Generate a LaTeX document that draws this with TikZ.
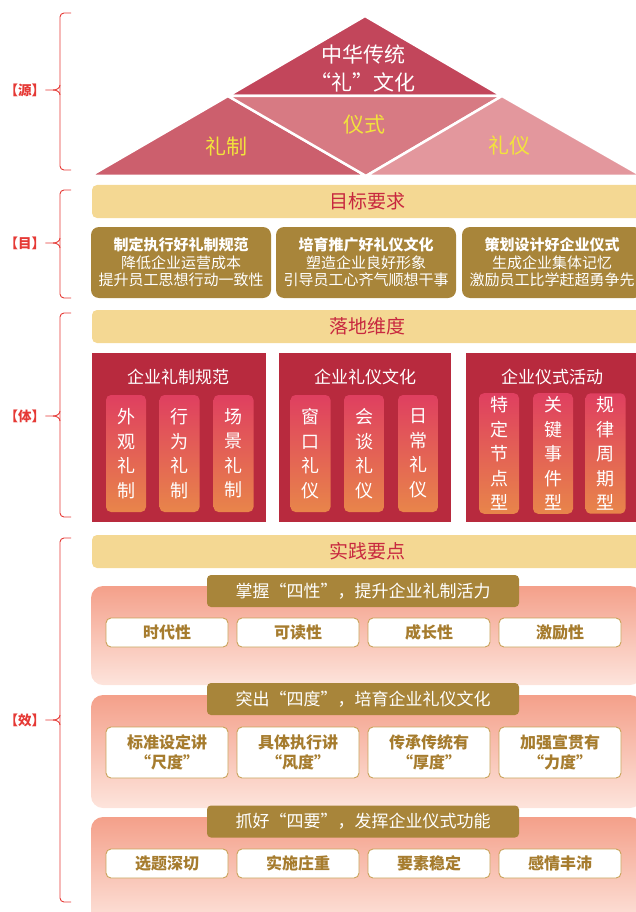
\documentclass[tikz,border=0pt]{standalone}
\usepackage{fontspec}
\setmainfont{Noto Sans CJK SC}

\definecolor{triTop}{HTML}{C2465B}
\definecolor{triLeft}{HTML}{CC5F6D}
\definecolor{triMid}{HTML}{D77A83}
\definecolor{triRight}{HTML}{E3979D}
\definecolor{triText}{HTML}{F2E33C}
\definecolor{barYellow}{HTML}{F4D893}
\definecolor{barRed}{HTML}{C8283F}
\definecolor{goldBrown}{HTML}{A8853A}
\definecolor{panelRed}{HTML}{B82A3E}
\definecolor{pillTop}{HTML}{DF3F60}
\definecolor{pillBot}{HTML}{E8854A}
\definecolor{pinkTop}{HTML}{F4A08A}
\definecolor{pinkBot}{HTML}{FDE4DC}
\definecolor{boxLine}{HTML}{C9A35A}
\definecolor{boxText}{HTML}{A67C2E}
\definecolor{braceRed}{HTML}{E53935}

\newcommand{\fsz}[2]{\fontsize{#1}{#2}\selectfont}

\tikzset{
  sidelabel/.style={text=braceRed, font=\fsz{13.5}{16}\bfseries, inner sep=0pt},
  sidebrace/.style={draw=braceRed, line width=0.9pt},
  tritext/.style={text=triText, font=\fsz{21}{26}},
  ybar/.style={fill=barYellow, rounded corners=5pt, minimum width=551pt,
    minimum height=33pt, text=barRed, font=\fsz{19}{22}},
  goalbox/.style={fill=goldBrown, rounded corners=8pt, minimum width=180pt,
    minimum height=71pt, text=white, align=center, font=\fsz{15}{17.5}},
  redpanel/.style={fill=panelRed, minimum height=169pt},
  paneltitle/.style={text=white, font=\fsz{17}{20}},
  pill/.style={rounded corners=5pt, top color=pillTop, bottom color=pillBot,
    minimum width=40pt, minimum height=117pt, text=white, align=center,
    font=\fsz{18}{24.5}},
  pinkpanel/.style={rounded corners=12pt, top color=pinkTop, bottom color=pinkBot,
    minimum width=551pt},
  headbox/.style={fill=goldBrown, rounded corners=4pt, minimum width=312pt,
    minimum height=32pt, text=white, font=\fsz{17}{20}},
  wbox/.style={fill=white, draw=boxLine, line width=0.9pt, rounded corners=5pt,
    minimum width=122pt, text=boxText, align=center, font=\fsz{16}{20}\bfseries},
}

\begin{document}
\begin{tikzpicture}[x=1pt, y=-1pt]
	\useasboundingbox (0,0) rectangle (636,912);

	% 源
	\fill[triTop,   draw=white, line width=2.5pt] (365,16) -- (228,96) -- (502,96) -- cycle;
	\fill[triLeft,  draw=white, line width=2.5pt] (228,96) -- (90,176) -- (366,176) -- cycle;
	\fill[triMid,   draw=white, line width=2.5pt] (228,96) -- (502,96) -- (366,176) -- cycle;
	\fill[triRight, draw=white, line width=2.5pt] (502,96) -- (366,176) -- (642,176) -- cycle;
	\node[text=white, align=center, font=\fsz{21}{28}] (tcore) at (363,68) {中华传统\\“礼”文化};
	\node[tritext] (tzhi) at (226,146) {礼制};
	\node[tritext] (tshi) at (364,125) {仪式};
	\node[tritext] (tyi)  at (509,146) {礼仪};

	% 目
	\node[ybar] (goal) at (367.5,201.5) {目标要求};
	\node[goalbox] (goal1) at (181,262.5) {\textbf{制定执行好礼制规范}\\降低企业运营成本\\提升员工思想行动一致性};
	\node[goalbox] (goal2) at (366,262.5) {\textbf{培育推广好礼仪文化}\\塑造企业良好形象\\引导员工心齐气顺想干事};
	\node[goalbox] (goal3) at (552,262.5) {\textbf{策划设计好企业仪式}\\生成企业集体记忆\\激励员工比学赶超勇争先};

	% 体
	\node[ybar] (dim) at (367.5,326.5) {落地维度};
	\node[redpanel, minimum width=174pt] (pan1) at (179,437.5) {};
	\node[redpanel, minimum width=172pt] (pan2) at (365,437.5) {};
	\node[redpanel, minimum width=174pt] (pan3) at (553,437.5) {};
	\node[paneltitle] (pt1) at (178,377) {企业礼制规范};
	\node[paneltitle] (pt2) at (365,377) {企业礼仪文化};
	\node[paneltitle] (pt3) at (552,377) {企业仪式活动};
	\node[pill] (p11) at (126,453.5)   {外\\观\\礼\\制};
	\node[pill] (p12) at (179.5,453.5) {行\\为\\礼\\制};
	\node[pill] (p13) at (233.5,453.5) {场\\景\\礼\\制};
	\node[pill] (p21) at (310.5,453.5) {窗\\口\\礼\\仪};
	\node[pill] (p22) at (364,453.5)   {会\\谈\\礼\\仪};
	\node[pill] (p23) at (418,453.5)   {日\\常\\礼\\仪};
	\node[pill] (p31) at (499,453.5)   {特\\定\\节\\点\\型};
	\node[pill] (p32) at (553,453.5)   {关\\键\\事\\件\\型};
	\node[pill] (p33) at (605.5,453.5) {规\\律\\周\\期\\型};

	% 效
	\node[ybar] (prac) at (367.5,551.5) {实践要点};
	\node[pinkpanel, minimum height=99pt]  (pk1) at (366.5,635.5) {};
	\node[pinkpanel, minimum height=113pt] (pk2) at (366.5,751.5) {};
	\node[pinkpanel, minimum height=108pt] (pk3) at (366.5,871) {};
	\node[headbox] (h1) at (363,591)   {掌握“四性”，提升企业礼制活力};
	\node[headbox] (h2) at (363,699)   {突出“四度”，培育企业礼仪文化};
	\node[headbox] (h3) at (363,821.5) {抓好“四要”，发挥企业仪式功能};
	\node[wbox, minimum height=29pt] (a1) at (167,632.5) {时代性};
	\node[wbox, minimum height=29pt] (a2) at (298,632.5) {可读性};
	\node[wbox, minimum height=29pt] (a3) at (429,632.5) {成长性};
	\node[wbox, minimum height=29pt] (a4) at (560,632.5) {激励性};
	\node[wbox, minimum height=51pt] (b1) at (167,752.5) {标准设定讲\\“尺度”};
	\node[wbox, minimum height=51pt] (b2) at (298,752.5) {具体执行讲\\“风度”};
	\node[wbox, minimum height=51pt] (b3) at (429,752.5) {传承传统有\\“厚度”};
	\node[wbox, minimum height=51pt] (b4) at (560,752.5) {加强宣贯有\\“力度”};
	\node[wbox, minimum height=29pt] (c1) at (167,863.5) {选题深切};
	\node[wbox, minimum height=29pt] (c2) at (298,863.5) {实施庄重};
	\node[wbox, minimum height=29pt] (c3) at (429,863.5) {要素稳定};
	\node[wbox, minimum height=29pt] (c4) at (560,863.5) {感情丰沛};

	% side braces
	\node[sidelabel] (lyuan) at (25,90)  {【源】};
	\node[sidelabel] (lmu)   at (25,243) {【目】};
	\node[sidelabel] (lti)   at (25,416) {【体】};
	\node[sidelabel] (lxiao) at (25,720) {【效】};
	\coordinate (kyuan) at (53,90);
	\coordinate (kmu)   at (53,243);
	\coordinate (kti)   at (53,416);
	\coordinate (kxiao) at (53,720);
	\draw[sidebrace, rounded corners=4pt] (71,13)  -- (60,13)  -- (60,170) -- (71,170);
	\draw[sidebrace, rounded corners=4pt] (71,190) -- (60,190) -- (60,298) -- (71,298);
	\draw[sidebrace, rounded corners=4pt] (71,313) -- (60,313) -- (60,517) -- (71,517);
	\draw[sidebrace, rounded corners=4pt] (71,538) -- (60,538) -- (60,902) -- (71,902);
	\draw[sidebrace] (lyuan.east) -- (kyuan) to[out=0, in=-90] (60,85);
	\draw[sidebrace] (kyuan) to[out=0, in=90] (60,95);
	\draw[sidebrace] (lmu.east) -- (kmu) to[out=0, in=-90] (60,238);
	\draw[sidebrace] (kmu) to[out=0, in=90] (60,248);
	\draw[sidebrace] (lti.east) -- (kti) to[out=0, in=-90] (60,411);
	\draw[sidebrace] (kti) to[out=0, in=90] (60,421);
	\draw[sidebrace] (lxiao.east) -- (kxiao) to[out=0, in=-90] (60,715);
	\draw[sidebrace] (kxiao) to[out=0, in=90] (60,725);
\end{tikzpicture}
\end{document}
